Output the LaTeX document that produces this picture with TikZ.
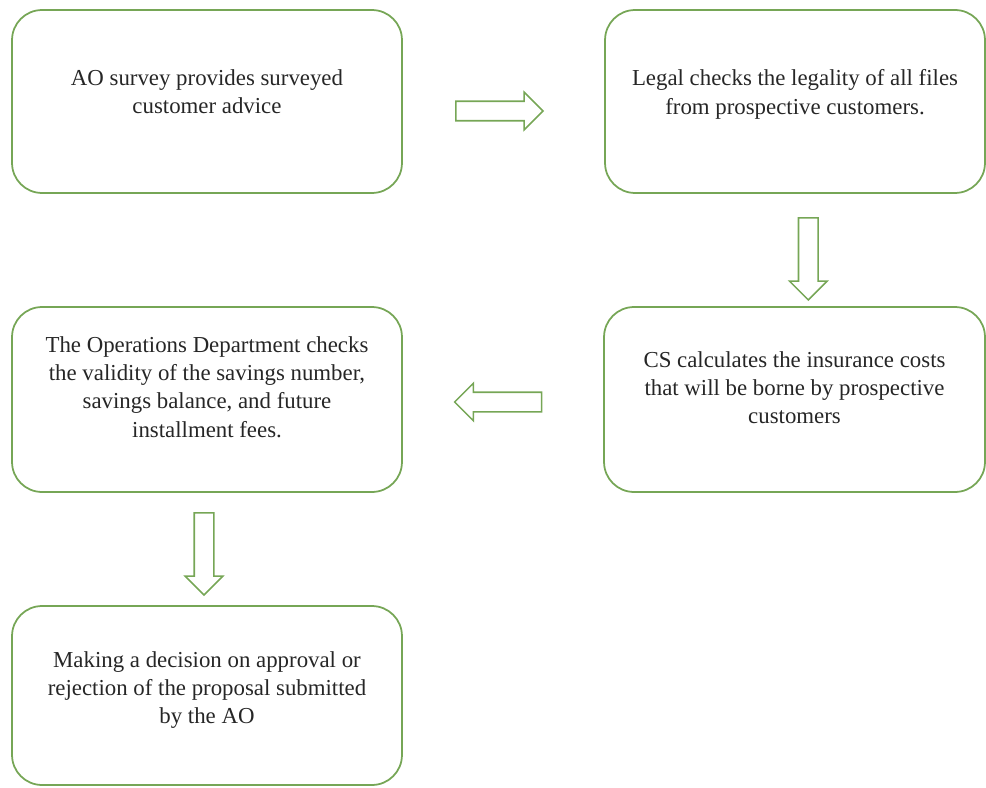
\documentclass[tikz,border=0pt]{standalone}
\usepackage{fontspec}
\setmainfont{Liberation Serif}
\usetikzlibrary{shapes.arrows, calc}
\definecolor{boxgreen}{RGB}{118,166,86}

\begin{document}
\begin{tikzpicture}[x = 0.02cm, y = -0.02cm,
        stage/.style = {draw = boxgreen, line width = 1pt, rounded corners = 0.6cm, minimum width = 7.8cm},
        stagetext/.style = {anchor = north, align = center, text = black!85, inner sep = 0, font = \fontsize{13}{16}\selectfont},
        flowarrow/.style = {single arrow, draw = boxgreen, line width = 0.9pt, inner sep = 0.18cm, minimum width = 0.72cm, single arrow head extend = 0.18cm, single arrow tip angle = 90}]
        \useasboundingbox (0, 0) rectangle (986, 787);
        \node [stage, minimum height = 3.66cm] (survey) at (207, 101.5) {};
        \node [stage, minimum height = 3.66cm, minimum width = 7.6cm] (legal) at (795, 101.5) {};
        \node [stage, minimum height = 3.7cm, minimum width = 7.62cm] (cost) at (794.5, 399.5) {};
        \node [stage, minimum height = 3.7cm] (operations) at (207, 399.5) {};
        \node [stage, minimum height = 3.58cm] (decision) at (207, 695.5) {};
        \node [stagetext] (surveytext) at (207, 69.5) {AO survey provides surveyed\\customer advice};
        \node [stagetext] (legaltext) at (795, 69.5) {Legal checks the legality of all files\\from prospective customers.};
        \node [stagetext] (costtext) at (794.5, 351.5) {CS calculates the insurance costs\\that will be borne by prospective\\customers};
        \node [stagetext] (operationstext) at (207, 336.5) {The Operations Department checks\\the validity of the savings number,\\savings balance, and future\\installment fees.};
        \node [stagetext] (decisiontext) at (207, 651.5) {Making a decision on approval or\\rejection of the proposal submitted\\by the AO};
        \node [flowarrow, minimum height = 1.74cm] (toLegal) at ($(survey.east)!0.5!(legal.west) + (-9, 9.5)$) {};
        \node [flowarrow, minimum height = 1.64cm, shape border rotate = 270] (toCost) at ($(legal.south)!0.5!(cost.north) + (13.5, 4)$) {};
        \node [flowarrow, minimum height = 1.74cm, shape border rotate = 180] (toOperations) at ($(cost.west)!0.5!(operations.east) + (0, 2.5)$) {};
        \node [flowarrow, minimum height = 1.64cm, shape border rotate = 270] (toDecision) at ($(operations.south)!0.5!(decision.north) + (-3, 0)$) {};
    \end{tikzpicture}
\end{document}
